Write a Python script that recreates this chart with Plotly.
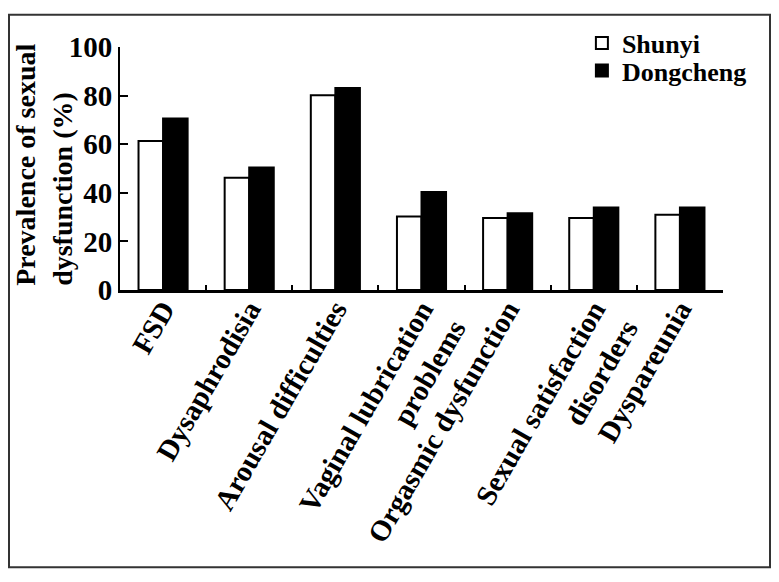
import plotly.graph_objects as go

categories = ["FSD", "Dysaphrodisia", "Arousal difficulties",
              "Vaginal lubrication<br>problems", "Orgasmic dysfunction",
              "Sexual satisfaction<br>disorders", "Dyspareunia"]
shunyi = [61.3, 46.2, 80.1, 30.2, 29.6, 29.6, 31.0]
dongcheng = [70.6, 50.4, 83.1, 40.3, 31.6, 34.0, 34.0]
y_ticks = [0, 20, 40, 60, 80, 100]

# page body has an 8px margin, keep the figure small enough to avoid scrollbars
W, H = 763, 566
ML, MR, MT, MB = 112, 48, 34, 284
FONT = "Times New Roman, Liberation Serif, serif"

fig = go.Figure()
fig.add_trace(go.Bar(x=categories, y=shunyi, name="Shunyi", legend="legend",
                     marker=dict(color="white", line=dict(color="black", width=2))))
fig.add_trace(go.Bar(x=categories, y=dongcheng, name="Dongcheng", legend="legend2",
                     marker=dict(color="black", line=dict(color="black", width=2))))

# paper coords of the figure edges, for the outer frame
pw, ph = W - ML - MR, H - MT - MB
x0, x1 = -ML / pw, 1 + MR / pw
y0, y1 = -MB / ph, 1 + MT / ph

fig.add_shape(type="rect", xref="paper", yref="paper",
              x0=x0 + 1 / pw, x1=x1 - 1 / pw, y0=y0 + 1 / ph, y1=y1 - 1 / ph,
              line=dict(color="#333333", width=2))

fig.add_annotation(text="Prevalence of sexual<br>dysfunction (%)", textangle=-90,
                   xref="paper", yref="paper", x=(36 - ML) / pw, y=0.515,
                   xanchor="center", yanchor="middle", align="left",
                   showarrow=False, font=dict(family=FONT, size=28, color="black", weight="bold"))

leg = dict(xanchor="left", yanchor="middle", bgcolor="rgba(0,0,0,0)",
           font=dict(size=26), tracegroupgap=0)

fig.update_layout(
    width=W, height=H,
    margin=dict(l=ML, r=MR, t=MT, b=MB),
    paper_bgcolor="white", plot_bgcolor="white",
    barmode="group", bargap=0.43, bargroupgap=0,
    font=dict(family=FONT, size=27, color="black", weight="bold"),
    showlegend=True,
    legend=dict(x=0.766, y=1.016, **leg),
    legend2=dict(x=0.766, y=0.903, **leg),
    xaxis=dict(showline=True, linecolor="black", linewidth=3,
               ticks="inside", ticklen=5, tickwidth=2, tickcolor="black",
               tickson="boundaries", tickangle=-60, ticklabelstandoff=-12,
               tickfont=dict(size=29), showgrid=False),
    yaxis=dict(range=[0, 100], tickvals=y_ticks, showline=True, linecolor="black",
               linewidth=2, ticks="inside", ticklen=8, tickwidth=2, tickcolor="black",
               tickfont=dict(size=29), showgrid=False, zeroline=False),
)

fig.write_html("out.html")
